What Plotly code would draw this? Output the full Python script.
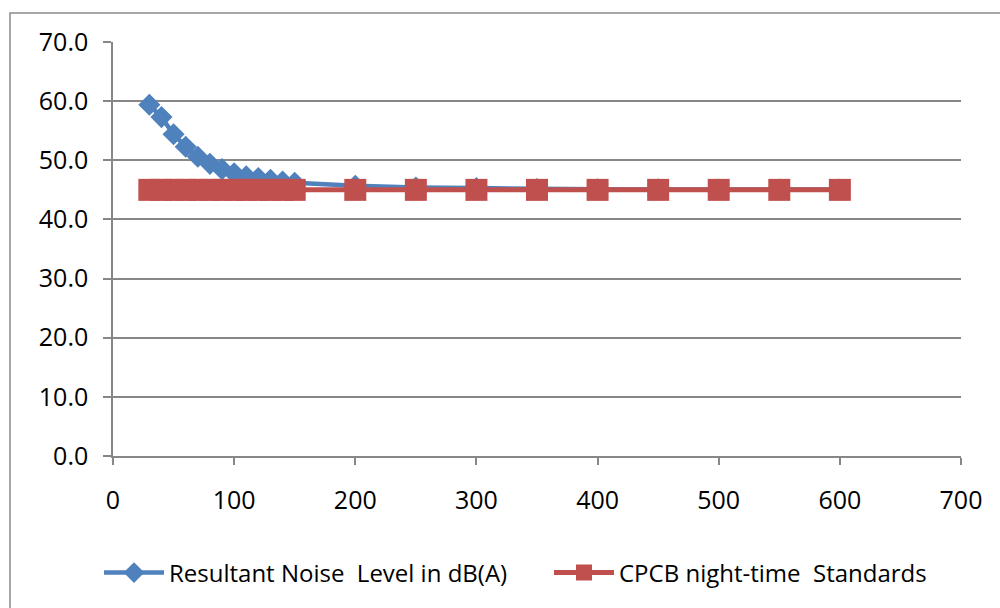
import plotly.graph_objects as go

distance = [30, 40, 50, 60, 70, 80, 90, 100, 110, 120, 130, 140, 150,
            200, 250, 300, 350, 400, 450, 500, 550, 600]
resultant = [59.4, 57.3, 54.4, 52.3, 50.6, 49.4, 48.5, 47.8, 47.3, 47.0, 46.7, 46.4, 46.2,
             45.7, 45.4, 45.3, 45.15, 45.1, 45.08, 45.06, 45.05, 45.04]
cpcb = [45.0] * len(distance)

series_names = ["Resultant Noise  Level in dB(A)", "CPCB night-time  Standards"]
y_ticks = [0, 10, 20, 30, 40, 50, 60, 70]
x_ticks = [0, 100, 200, 300, 400, 500, 600, 700]

FONT = "Open Sans, DejaVu Sans, sans-serif"
GRID = "#878787"

fig = go.Figure()
fig.add_trace(go.Scatter(
    x=distance, y=resultant, name=series_names[0], mode="lines+markers",
    line=dict(color="#4F81BD", width=4.5),
    marker=dict(symbol="diamond", size=17, color="#4F81BD", line=dict(width=0)),
))
fig.add_trace(go.Scatter(
    x=distance, y=cpcb, name=series_names[1], mode="lines+markers",
    line=dict(color="#C0504D", width=5),
    marker=dict(symbol="square", size=22, color="#C0504D", line=dict(width=0)),
))

W, H = 1000, 608
L, R, T, B = 113, 39, 42, 152
pw, ph = W - L - R, H - T - B

fig.update_layout(
    width=W, height=H,
    margin=dict(l=L, r=R, t=T, b=B, pad=0),
    paper_bgcolor="white", plot_bgcolor="white",
    font=dict(family=FONT, size=25, color="#000000"),
    showlegend=True,
    legend=dict(orientation="h", x=(99 - L) / pw, xanchor="left", y=(456 - 573) / ph, yanchor="middle",
                font=dict(family=FONT, size=24), itemwidth=60, tracegroupgap=0,
                entrywidth=375, bgcolor="rgba(0,0,0,0)"),
    xaxis=dict(range=[0, 700], tickvals=x_ticks, showgrid=False, zeroline=False,
               showline=True, linecolor=GRID, linewidth=1.5,
               ticks="outside", ticklen=7, tickwidth=1.5, tickcolor=GRID,
               ticklabelstandoff=14, tickfont=dict(size=25)),
    yaxis=dict(range=[0, 70], tickvals=y_ticks, tickformat=".1f",
               showgrid=True, gridcolor=GRID, gridwidth=1.5, zeroline=False,
               showline=True, linecolor=GRID, linewidth=1.5,
               ticks="outside", ticklen=8, tickwidth=1.5, tickcolor=GRID,
               ticklabelstandoff=10, tickfont=dict(size=25)),
    shapes=[dict(type="rect", xref="paper", yref="paper",
                 x0=(10 - L) / pw, x1=2, y0=-2, y1=(456 - 13) / ph,
                 line=dict(color="#8a8a8a", width=1.5), layer="below")],
)

fig.write_html("out.html")
